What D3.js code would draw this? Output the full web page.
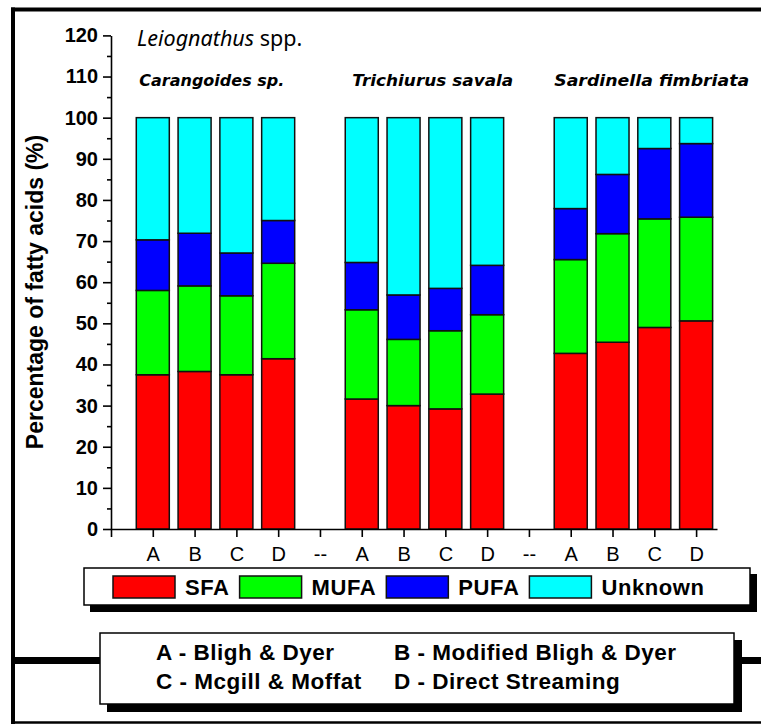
<!DOCTYPE html>
<html><head><meta charset="utf-8">
<script src="https://cdn.jsdelivr.net/npm/d3@7"></script>
<style>body{margin:0;background:#fff} svg{display:block}</style>
</head><body>
<svg id="chart" width="761" height="727"></svg>
<script>
// ---- data ----
const tickLabels = ["", "A","B","C","D","--","A","B","C","D","--","A","B","C","D"];
const barPositions = [1,2,3,4,6,7,8,9,11,12,13,14];
const species = ["Carangoides sp.","Trichiurus savala","Sardinella fimbriata"];
const speciesFirstPos = [1,6,11];
const seriesNames = ["SFA","MUFA","PUFA","Unknown"];
const sfa     = [37.5,38.3,37.5,41.4, 31.6,30.0,29.2,32.8, 42.7,45.4,49.0,50.6];
const mufa    = [20.5,20.8,19.2,23.2, 21.7,16.1,19.0,19.3, 22.8,26.4,26.4,25.2];
const pufa    = [12.3,12.8,10.4,10.4, 11.5,10.8,10.3,12.0, 12.4,14.4,17.1,17.9];
const unknown = [29.7,28.1,32.9,25.0, 35.2,43.1,41.5,35.9, 22.1,13.8, 7.5, 6.3];
const yTicks = [0,10,20,30,40,50,60,70,80,90,100,110,120];
const yMinorTicks = [5,15,25,35,45,55,65,75,85,95,105,115];
const methodsLeft = ["A - Bligh & Dyer","C - Mcgill & Moffat"];
const methodsRight = ["B - Modified Bligh & Dyer","D - Direct Streaming"];
const titleItalic = "Leiognathus";
const titleRest = " spp.";
const yLabel = "Percentage of fatty acids (%)";

// ---- styles ----
const colors = {SFA:"#ff0000", MUFA:"#00ff00", PUFA:"#0000ff", Unknown:"#00ffff"};
const sansBold = "'Liberation Sans', Arial, sans-serif";
const svg = d3.select("#chart");

// frame
svg.append("line").attr("x1",11).attr("x2",761).attr("y1",9.5).attr("y2",9.5).attr("stroke","#000").attr("stroke-width",4);
svg.append("line").attr("x1",13).attr("x2",13).attr("y1",7.5).attr("y2",724).attr("stroke","#000").attr("stroke-width",4);
svg.append("line").attr("x1",11).attr("x2",761).attr("y1",722.5).attr("y2",722.5).attr("stroke","#000").attr("stroke-width",2.5);
svg.append("line").attr("x1",13).attr("x2",761).attr("y1",660.5).attr("y2",660.5).attr("stroke","#000").attr("stroke-width",7);

// scales
const x = d3.scaleLinear().domain([0,14.5]).range([111,717]);
const y = d3.scaleLinear().domain([0,120]).range([529,35.4]);
const halfBar = 0.395;

// stacked data
const rows = barPositions.map((p,i)=>({pos:p, SFA:sfa[i], MUFA:mufa[i], PUFA:pufa[i], Unknown:unknown[i]}));
const stacked = d3.stack().keys(seriesNames)(rows);

const gBars = svg.append("g");
stacked.forEach(layer=>{
  gBars.selectAll(null).data(layer).enter().append("rect")
    .attr("x", d=>x(d.data.pos - halfBar))
    .attr("width", d=>x(d.data.pos + halfBar) - x(d.data.pos - halfBar))
    .attr("y", d=>y(d[1]))
    .attr("height", d=>y(d[0]) - y(d[1]))
    .attr("fill", colors[layer.key])
    .attr("stroke","#111").attr("stroke-width",1.5);
});

// y axis
const yAxis = svg.append("g").attr("transform","translate(111,0)")
  .call(d3.axisLeft(y).tickValues(yTicks).tickSize(8).tickSizeOuter(0).tickPadding(5).tickFormat(d3.format("d")));
yAxis.selectAll("text").attr("font-family",sansBold).attr("font-weight","bold").attr("font-size",20).attr("fill","#000");
yAxis.selectAll("line,path").attr("stroke","#000").attr("stroke-width",1.6);
const yMinor = svg.append("g").attr("transform","translate(111,0)")
  .call(d3.axisLeft(y).tickValues(yMinorTicks).tickSize(4).tickSizeOuter(0).tickFormat(""));
yMinor.select("path").remove();
yMinor.selectAll("line").attr("stroke","#000").attr("stroke-width",1.6);

// x axis
const xAxis = svg.append("g").attr("transform","translate(0,529)")
  .call(d3.axisBottom(x).tickValues(d3.range(0,15)).tickSize(8).tickSizeOuter(0).tickPadding(10).tickFormat(i=>tickLabels[i]));
xAxis.selectAll("text").attr("font-family",sansBold).attr("font-size",20).attr("fill","#000");
xAxis.selectAll("line,path").attr("stroke","#000").attr("stroke-width",1.6);

// y label
svg.append("text").attr("transform","translate(43,292) rotate(-90)")
  .attr("text-anchor","middle").attr("font-family",sansBold).attr("font-weight","bold")
  .attr("font-size",23).attr("fill","#000").text(yLabel);

// title
const t = svg.append("text").attr("x",137).attr("y",46).attr("font-family","'Noto Sans', 'Open Sans', sans-serif").attr("font-size",21.5).attr("fill","#000");
t.append("tspan").attr("font-style","italic").text(titleItalic);
t.append("tspan").text(titleRest);

// species labels
const speciesWidths = [145,161,195];
const speciesOffsets = [3,7,0];
species.forEach((s,i)=>{
  svg.append("text").attr("x", x(speciesFirstPos[i]-halfBar)+speciesOffsets[i]).attr("y",86)
    .attr("font-family","'DejaVu Sans', sans-serif").attr("font-weight","bold").attr("font-style","italic")
    .attr("font-size",15).attr("textLength",speciesWidths[i]).attr("lengthAdjust","spacingAndGlyphs")
    .attr("fill","#000").text(s);
});

// legend
svg.append("rect").attr("x",90).attr("y",574).attr("width",667).attr("height",38).attr("fill","#000");
svg.append("rect").attr("x",84).attr("y",568).attr("width",666).attr("height",37).attr("fill","#fff").attr("stroke","#000").attr("stroke-width",1.5);
let lx = 113;
seriesNames.forEach(k=>{
  svg.append("rect").attr("x",lx).attr("y",576).attr("width",62).attr("height",22).attr("fill",colors[k]).attr("stroke","#111").attr("stroke-width",1.5);
  const tt = svg.append("text").attr("x",lx+72).attr("y",595).attr("font-family",sansBold).attr("font-weight","bold")
    .attr("font-size",22).attr("letter-spacing",0.6).attr("fill","#000").text(k);
  lx = lx + 72 + tt.node().getComputedTextLength() + 10;
});

// methods box
svg.append("rect").attr("x",107).attr("y",640).attr("width",635).attr("height",72).attr("fill","#000");
svg.append("rect").attr("x",100).attr("y",633).attr("width",634).attr("height",71).attr("fill","#fff").attr("stroke","#000").attr("stroke-width",1.5);
[methodsLeft, methodsRight].forEach((col,ci)=>{
  col.forEach((m,ri)=>{
    svg.append("text").attr("x", ci===0?156:394).attr("y", ri===0?660:689)
      .attr("font-family",sansBold).attr("font-weight","bold").attr("font-size",22.5)
      .attr("letter-spacing",0.5).attr("fill","#000").text(m);
  });
});
</script>
</body></html>
